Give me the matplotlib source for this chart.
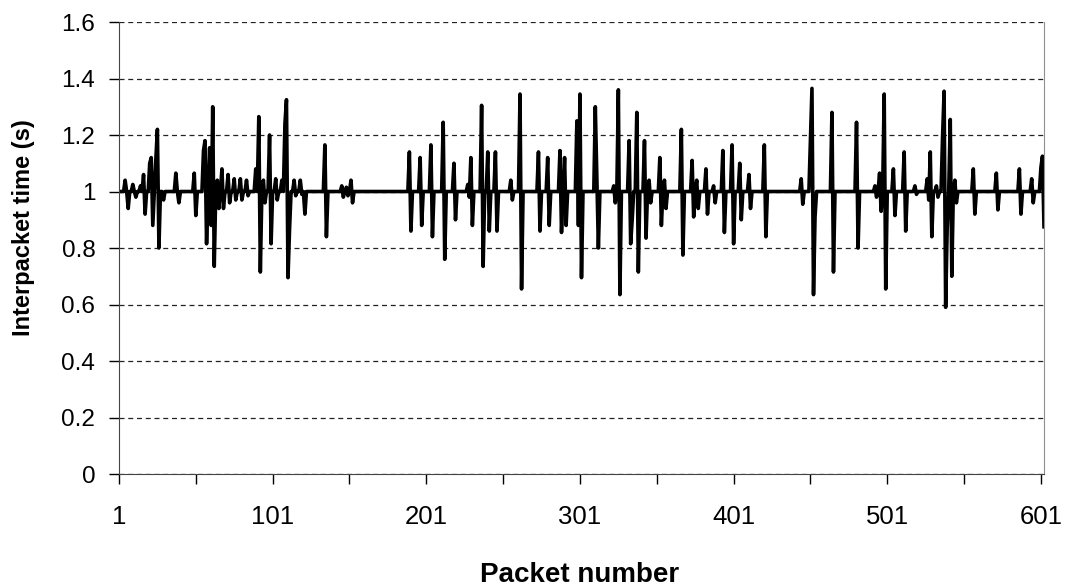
import numpy as np
import matplotlib.pyplot as plt

n_packets = 603
baseline = 1.0

# packets that stray from the 1 s baseline
spike_packets = [
    5, 7, 10, 12, 15, 17, 18, 21, 22, 23, 25, 26, 27, 30, 38, 40,
    50, 51, 56, 57, 58, 60, 61, 62, 63, 65, 66, 68, 69, 72, 73, 76, 77,
    80, 81, 84, 85, 90, 92, 93, 95, 96, 99, 100, 103, 104, 107, 109, 110,
    111, 112, 115, 116, 119, 120, 122, 135, 136, 146, 147, 149, 150, 152, 153,
    190, 191, 197, 198, 204, 205, 212, 213, 219, 220, 228, 229, 230, 231,
    237, 238, 241, 242, 246, 247, 256, 257, 262, 263, 274, 275, 280, 281,
    288, 289, 291, 292, 299, 300, 301, 302, 311, 312, 313, 323, 324, 326, 327,
    333, 334, 335, 338, 339, 343, 344, 346, 347, 353, 354, 356, 357, 367, 368,
    374, 375, 377, 378, 383, 384, 388, 389, 394, 395, 400, 401, 405, 406,
    411, 412, 421, 422, 445, 446, 451, 452, 453, 454, 465, 466, 481, 482,
    493, 494, 496, 497, 499, 500, 505, 506, 512, 513, 519, 520, 527, 528,
    529, 530, 533, 534, 537, 538, 539, 540, 542, 543, 545, 546, 557, 558,
    572, 573, 587, 588, 595, 596, 601, 602, 603,
]
spike_values = [
    1.04, 0.94, 1.025, 0.98, 1.02, 1.06, 0.92, 1.10, 1.12, 0.88, 1.115, 1.22, 0.80, 0.97, 1.065, 0.96,
    1.065, 0.915, 1.145, 1.18, 0.815, 1.155, 0.88, 1.30, 0.735, 1.04, 0.94, 1.08, 0.94, 1.06, 0.96, 1.045, 0.97,
    1.045, 0.97, 1.04, 0.985, 1.08, 1.265, 0.715, 1.04, 0.96, 1.20, 0.815, 1.045, 0.97, 1.04, 1.24, 1.325,
    0.695, 0.865, 1.04, 0.985, 1.04, 0.99, 0.92, 1.165, 0.84, 1.02, 0.98, 1.015, 0.985, 1.04, 0.96,
    1.14, 0.86, 1.12, 0.88, 1.165, 0.84, 1.245, 0.76, 1.10, 0.90, 1.025, 0.98, 1.12, 0.88,
    1.305, 0.735, 1.14, 0.86, 1.14, 0.86, 1.04, 0.97, 1.345, 0.655, 1.14, 0.86, 1.12, 0.88,
    1.145, 0.855, 1.12, 0.88, 1.25, 0.88, 1.345, 0.695, 1.30, 1.05, 0.80, 1.02, 0.96, 1.36, 0.635,
    1.18, 0.815, 0.90, 1.28, 0.715, 1.18, 0.835, 1.04, 0.96, 1.12, 0.88, 1.04, 0.94, 1.22, 0.775,
    1.11, 0.91, 1.04, 0.94, 1.08, 0.92, 1.02, 0.96, 1.145, 0.855, 1.165, 0.815, 1.10, 0.90,
    1.06, 0.94, 1.165, 0.84, 1.045, 0.955, 1.18, 1.365, 0.635, 0.91, 1.28, 0.715, 1.245, 0.80,
    1.02, 0.98, 1.065, 0.93, 1.345, 0.655, 1.08, 0.915, 1.14, 0.86, 1.02, 0.99, 1.045, 0.97,
    1.14, 0.84, 1.02, 0.98, 1.195, 1.355, 0.59, 0.87, 1.255, 0.70, 1.04, 0.96, 1.08, 0.92,
    1.065, 0.935, 1.08, 0.92, 1.045, 0.96, 1.085, 1.125, 0.875,
]

y_ticks = [0, 0.2, 0.4, 0.6, 0.8, 1.0, 1.2, 1.4, 1.6]
y_tick_labels = ["0", "0.2", "0.4", "0.6", "0.8", "1", "1.2", "1.4", "1.6"]
x_ticks = [1, 101, 201, 301, 401, 501, 601]
x_minor = [51, 151, 251, 351, 451, 551]

packets = np.arange(1, n_packets + 1)
times = np.full(n_packets, baseline)
times[np.array(spike_packets) - 1] = spike_values

plt.rcParams["font.family"] = "Liberation Sans"

fig = plt.figure(figsize=(10.69, 5.87), dpi=100)
ax = fig.add_axes([0.1113, 0.1925, 0.8653, 0.77])

ax.plot(packets, times, color="black", lw=2.6)

ax.set_xlim(1, 603)
ax.set_ylim(0, 1.6)
ax.set_yticks(y_ticks)
ax.set_yticklabels(y_tick_labels, fontsize=17.5)
ax.set_xticks(x_ticks)
ax.set_xticks(x_minor, minor=True)
ax.set_xticklabels([str(t) for t in x_ticks], fontsize=18.5)

ax.yaxis.grid(True, color="#222222", linestyle=(0, (4, 3)), lw=0.9)
ax.set_axisbelow(True)

ax.tick_params(axis="y", direction="out", length=7, width=1, pad=10)
ax.tick_params(axis="x", which="both", direction="out", length=7, width=1, pad=15)

ax.spines["top"].set_visible(False)
ax.spines["right"].set_color("#909090")
ax.spines["left"].set_color("#444444")
ax.spines["bottom"].set_color("#444444")

fig.text(24 / 1069, 1 - 228 / 587, "Interpacket time (s)", rotation=90,
         ha="center", va="center", fontsize=17, fontweight="bold")
ax.set_xlabel("Packet number", fontsize=20, fontweight="bold", va="top")
ax.xaxis.set_label_coords(0.498, -0.195)

fig.savefig("out.png", dpi=100)
